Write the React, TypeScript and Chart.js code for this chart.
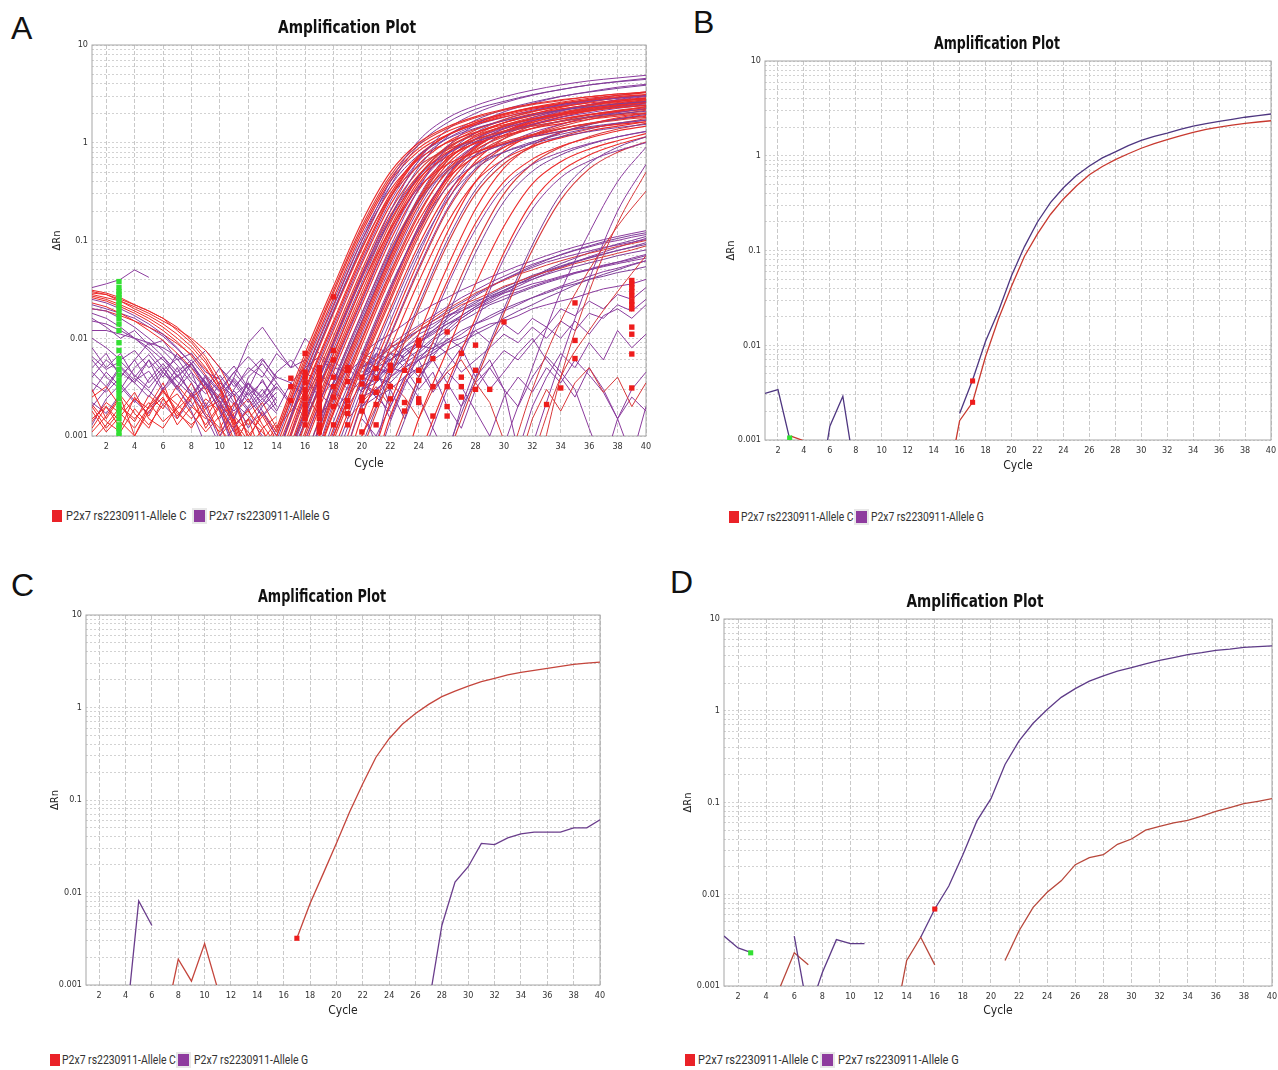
import React, { useEffect, useRef } from "react";
import { Chart, registerables } from "chart.js";

Chart.register(...registerables);

// ---------------- data ----------------
const CHART_TITLE = "Amplification Plot";
const X_TITLE = "Cycle";
const Y_TITLE = "ΔRn";
const SERIES_NAMES = ["P2x7 rs2230911-Allele C", "P2x7 rs2230911-Allele G"];
const X_TICKS = [2, 4, 6, 8, 10, 12, 14, 16, 18, 20, 22, 24, 26, 28, 30, 32, 34, 36, 38, 40];
const Y_TICKS = [
  0.001, 0.002, 0.003, 0.004, 0.005, 0.006, 0.007, 0.008, 0.009,
  0.01, 0.02, 0.03, 0.04, 0.05, 0.06, 0.07, 0.08, 0.09,
  0.1, 0.2, 0.3, 0.4, 0.5, 0.6, 0.7, 0.8, 0.9,
  1, 2, 3, 4, 5, 6, 7, 8, 9, 10,
];
const Y_LABELS = [0.001, 0.01, 0.1, 1, 10];
const CYCLES = [1, 2, 3, 4, 5, 6, 7, 8, 9, 10, 11, 12, 13, 14, 15, 16, 17, 18, 19, 20,
  21, 22, 23, 24, 25, 26, 27, 28, 29, 30, 31, 32, 33, 34, 35, 36, 37, 38, 39, 40];

// Panel B
const B_ALLELE_C = [null, null, 0.0011, 0.00098, 0.0004, null, null, null, null, null,
  null, null, null, null, 0.0003, 0.0016, 0.0025, 0.0076, 0.019, 0.042,
  0.087, 0.15, 0.24, 0.35, 0.48, 0.63, 0.77, 0.91, 1.05, 1.2,
  1.34, 1.48, 1.62, 1.76, 1.9, 2.0, 2.1, 2.2, 2.27, 2.34];
const B_ALLELE_G = [0.0031, 0.0034, 0.0009, 0.0003, 0.0002, 0.0014, 0.0029, 0.0004, null, null,
  null, null, null, null, null, 0.0019, 0.0043, 0.011, 0.023, 0.054,
  0.11, 0.2, 0.32, 0.46, 0.62, 0.78, 0.95, 1.1, 1.28, 1.45,
  1.6, 1.73, 1.9, 2.05, 2.18, 2.3, 2.42, 2.55, 2.65, 2.76];
const B_CT_MARKS = [[17, 0.0042], [17, 0.0025]];
const B_START_MARKS = [[2.9, 0.00105]];

// Panel C
const C_ALLELE_C = [null, null, null, null, null, null, 0.0004, 0.0019, 0.0011, 0.0028,
  0.0009, null, null, null, null, null, 0.0032, 0.0076, 0.016, 0.034,
  0.074, 0.15, 0.29, 0.46, 0.66, 0.86, 1.08, 1.31, 1.5, 1.7,
  1.9, 2.07, 2.25, 2.4, 2.52, 2.65, 2.78, 2.93, 3.02, 3.1];
const C_ALLELE_G = [null, null, null, 0.00032, 0.0081, 0.0044, null, null, null, null,
  null, null, null, null, null, null, null, null, null, null,
  null, null, null, null, null, null, 0.00061, 0.0044, 0.013, 0.019,
  0.034, 0.033, 0.039, 0.043, 0.045, 0.045, 0.045, 0.05, 0.05, 0.061];
const C_CT_MARKS = [[17, 0.0032]];

// Panel D
const D_ALLELE_C = [null, null, null, null, 0.00098, 0.0023, 0.0017, null, null, null,
  null, null, 0.0003, 0.0019, 0.0034, 0.0017, null, null, null, null,
  0.0019, 0.004, 0.0072, 0.0105, 0.014, 0.021, 0.025, 0.027, 0.035, 0.04,
  0.05, 0.055, 0.06, 0.064, 0.071, 0.08, 0.088, 0.097, 0.103, 0.11];
const D_ALLELE_G = [0.0035, 0.0026, 0.0023, null, null, 0.0035, 0.0005, 0.0014, 0.0032, 0.0029,
  0.0029, null, null, null, 0.0034, 0.0069, 0.0123, 0.027, 0.063, 0.11,
  0.26, 0.47, 0.73, 1.03, 1.4, 1.74, 2.1, 2.4, 2.7, 2.95,
  3.25, 3.55, 3.8, 4.1, 4.3, 4.55, 4.7, 4.9, 5.0, 5.1];
const D_CT_MARKS = [[16, 0.0069]];
const D_START_MARKS = [[2.9, 0.0023]];

// Panel A (many wells)
const A_AMP_X = [14, 16, 18, 20, 22, 24, 26, 28, 30, 32, 34, 36, 38, 40];
const A_AMP_C = [
  [0.0012, 0.007, 0.034, 0.155, 0.5, 1.0, 1.45, 1.85, 2.2, 2.5, 2.75, 2.95, 3.15, 3.3],
  [0.001, 0.0058, 0.029, 0.13, 0.43, 0.88, 1.3, 1.66, 1.99, 2.28, 2.54, 2.76, 2.96, 3.12],
  [0.0011, 0.0063, 0.031, 0.14, 0.46, 0.95, 1.4, 1.8, 2.15, 2.45, 2.7, 2.95, 3.15, 3.3],
  [0.001, 0.0054, 0.026, 0.12, 0.4, 0.82, 1.2, 1.54, 1.84, 2.1, 2.34, 2.55, 2.72, 2.88],
  [0.0008, 0.0045, 0.022, 0.1, 0.33, 0.68, 1.0, 1.28, 1.53, 1.75, 1.95, 2.12, 2.28, 2.4],
  [0.0007, 0.0038, 0.019, 0.085, 0.28, 0.58, 0.85, 1.08, 1.3, 1.48, 1.65, 1.8, 1.93, 2.03],
  [0.0004, 0.0028, 0.014, 0.067, 0.27, 0.7, 1.19, 1.6, 1.96, 2.3, 2.6, 2.85, 3.05, 3.25],
  [0.0004, 0.0024, 0.012, 0.058, 0.23, 0.6, 1.02, 1.38, 1.68, 1.98, 2.22, 2.45, 2.65, 2.8],
  [0.0003, 0.0021, 0.0105, 0.05, 0.2, 0.52, 0.9, 1.2, 1.47, 1.73, 1.95, 2.15, 2.3, 2.45],
  [0.0003, 0.0017, 0.0085, 0.041, 0.16, 0.43, 0.72, 0.98, 1.19, 1.4, 1.57, 1.74, 1.87, 2.0],
  [0.0002, 0.0014, 0.007, 0.034, 0.13, 0.35, 0.6, 0.8, 0.98, 1.15, 1.3, 1.43, 1.54, 1.64],
  [0.0002, 0.0011, 0.0061, 0.03, 0.135, 0.45, 0.92, 1.35, 1.73, 2.07, 2.36, 2.63, 2.86, 3.08],
  [0.0002, 0.0009, 0.0052, 0.025, 0.115, 0.38, 0.78, 1.15, 1.47, 1.76, 2.0, 2.24, 2.44, 2.62],
  [0.00015, 0.0008, 0.0045, 0.022, 0.1, 0.33, 0.68, 1.0, 1.28, 1.53, 1.75, 1.95, 2.12, 2.28],
  [0.0001, 0.0006, 0.0036, 0.018, 0.08, 0.26, 0.54, 0.8, 1.02, 1.22, 1.4, 1.56, 1.7, 1.82],
  [0.0001, 0.0004, 0.0028, 0.014, 0.067, 0.27, 0.7, 1.19, 1.6, 1.96, 2.3, 2.6, 2.87, 3.08],
  [0.0001, 0.0004, 0.0024, 0.012, 0.058, 0.23, 0.6, 1.02, 1.38, 1.68, 1.98, 2.22, 2.46, 2.64],
  [0.0001, 0.0003, 0.002, 0.01, 0.048, 0.19, 0.5, 0.85, 1.15, 1.4, 1.65, 1.85, 2.05, 2.2],
  [0.0001, 0.0003, 0.0017, 0.0085, 0.041, 0.16, 0.43, 0.72, 0.98, 1.19, 1.4, 1.57, 1.74, 1.87],
  [0.0001, 0.0002, 0.001, 0.0058, 0.029, 0.13, 0.43, 0.88, 1.3, 1.66, 1.99, 2.28, 2.54, 2.76],
  [0.0001, 0.0002, 0.0009, 0.005, 0.024, 0.11, 0.36, 0.75, 1.1, 1.41, 1.68, 1.93, 2.15, 2.33],
  [0.0001, 0.0001, 0.0007, 0.004, 0.02, 0.09, 0.3, 0.61, 0.9, 1.15, 1.38, 1.58, 1.76, 1.9],
  [0.0001, 0.0001, 0.0004, 0.0026, 0.013, 0.062, 0.25, 0.65, 1.1, 1.5, 1.82, 2.15, 2.4, 2.65],
  [0.0001, 0.0001, 0.0003, 0.0021, 0.0105, 0.05, 0.2, 0.52, 0.9, 1.2, 1.47, 1.73, 1.95, 2.15],
  [0.0001, 0.0001, 0.0002, 0.0016, 0.008, 0.038, 0.15, 0.4, 0.68, 0.92, 1.12, 1.32, 1.48, 1.64],
  [0.0001, 0.0001, 0.0002, 0.001, 0.0054, 0.026, 0.12, 0.4, 0.82, 1.2, 1.54, 1.84, 2.1, 2.34],
  [0.0001, 0.0001, 0.0001, 0.0007, 0.004, 0.02, 0.09, 0.3, 0.61, 0.9, 1.15, 1.38, 1.58, 1.76],
  [0.0001, 0.0001, 0.0001, 0.0003, 0.0022, 0.011, 0.053, 0.21, 0.55, 0.94, 1.27, 1.54, 1.8, 2.0],
  [0.0001, 0.0001, 0.0001, 0.0002, 0.0016, 0.008, 0.038, 0.15, 0.4, 0.68, 0.92, 1.12, 1.32, 1.48],
  [0.0001, 0.0001, 0.0001, 0.0001, 0.0007, 0.004, 0.02, 0.09, 0.3, 0.61, 0.9, 1.15, 1.38, 1.58],
  [0.0001, 0.0001, 0.0001, 0.0001, 0.0002, 0.0015, 0.0075, 0.036, 0.14, 0.38, 0.64, 0.86, 1.05, 1.24],
  [0.0001, 0.0001, 0.0001, 0.0001, 0.0001, 0.0006, 0.0034, 0.016, 0.075, 0.25, 0.51, 0.75, 0.96, 1.15],
  [0.0001, 0.0001, 0.0001, 0.0001, 0.0001, 0.0001, 0.0006, 0.0036, 0.018, 0.08, 0.26, 0.54, 0.8, 1.02],
  [0.0002, 0.001, 0.0056, 0.027, 0.125, 0.41, 0.85, 1.25, 1.6, 1.9, 2.2, 2.45, 2.65, 2.85],
  [0.0001, 0.0002, 0.001, 0.0054, 0.026, 0.12, 0.4, 0.82, 1.2, 1.54, 1.84, 2.1, 2.34, 2.55],
  [0.0001, 0.0004, 0.0026, 0.013, 0.062, 0.25, 0.65, 1.1, 1.5, 1.82, 2.15, 2.4, 2.65, 2.86],
  [0.0005, 0.003, 0.015, 0.072, 0.28, 0.72, 1.2, 1.6, 1.95, 2.25, 2.5, 2.72, 2.9, 3.05],
  [0.0003, 0.0019, 0.0095, 0.046, 0.18, 0.47, 0.8, 1.08, 1.32, 1.55, 1.75, 1.93, 2.08, 2.2],
  [0.0001, 0.0005, 0.003, 0.015, 0.07, 0.26, 0.66, 1.08, 1.45, 1.75, 2.05, 2.3, 2.5, 2.7],
  [0.0001, 0.0002, 0.0012, 0.0065, 0.032, 0.14, 0.45, 0.9, 1.3, 1.62, 1.92, 2.18, 2.4, 2.6],
  [0.0006, 0.0035, 0.018, 0.082, 0.3, 0.74, 1.18, 1.55, 1.9, 2.2, 2.45, 2.68, 2.88, 3.02],
  [0.0002, 0.0013, 0.0068, 0.034, 0.15, 0.46, 0.88, 1.26, 1.6, 1.9, 2.15, 2.38, 2.58, 2.75],
  [0.0001, 0.0003, 0.0018, 0.0095, 0.045, 0.18, 0.52, 0.92, 1.3, 1.6, 1.9, 2.15, 2.36, 2.55],
];
const A_AMP_G = [
  [0.0006, 0.0042, 0.021, 0.1, 0.4, 1.05, 1.78, 2.4, 2.95, 3.45, 3.9, 4.3, 4.6, 4.9],
  [0.0006, 0.0038, 0.019, 0.09, 0.36, 0.95, 1.6, 2.2, 2.65, 3.1, 3.5, 3.9, 4.2, 4.45],
  [0.0003, 0.0016, 0.009, 0.044, 0.2, 0.66, 1.36, 2.0, 2.56, 3.06, 3.5, 3.9, 4.24, 4.56],
  [0.0003, 0.0014, 0.0077, 0.037, 0.17, 0.56, 1.15, 1.7, 2.18, 2.6, 2.98, 3.3, 3.6, 3.88],
  [0.0002, 0.0005, 0.0036, 0.018, 0.086, 0.34, 0.9, 1.53, 2.07, 2.52, 2.97, 3.33, 3.7, 3.96],
  [0.0009, 0.005, 0.024, 0.11, 0.36, 0.75, 1.1, 1.41, 1.68, 1.93, 2.15, 2.33, 2.5, 2.64],
  [0.0004, 0.0026, 0.013, 0.062, 0.25, 0.65, 1.1, 1.5, 1.82, 2.15, 2.4, 2.65, 2.86, 3.05],
  [0.0003, 0.0018, 0.009, 0.043, 0.17, 0.45, 0.77, 1.03, 1.26, 1.48, 1.66, 1.84, 1.98, 2.1],
  [0.0002, 0.0009, 0.005, 0.024, 0.11, 0.36, 0.75, 1.1, 1.41, 1.68, 1.93, 2.15, 2.33, 2.5],
  [0.0001, 0.0006, 0.0034, 0.0165, 0.075, 0.25, 0.51, 0.75, 0.96, 1.15, 1.31, 1.46, 1.59, 1.71],
  [0.0001, 0.0003, 0.0022, 0.011, 0.053, 0.21, 0.55, 0.94, 1.27, 1.54, 1.82, 2.03, 2.25, 2.42],
  [0.0001, 0.0002, 0.0014, 0.007, 0.034, 0.13, 0.35, 0.6, 0.8, 0.98, 1.15, 1.3, 1.43, 1.54],
  [0.0001, 0.0002, 0.0011, 0.0063, 0.031, 0.14, 0.46, 0.95, 1.4, 1.8, 2.15, 2.45, 2.73, 2.97],
  [0.0001, 0.0001, 0.0006, 0.0036, 0.018, 0.08, 0.26, 0.54, 0.8, 1.02, 1.22, 1.4, 1.56, 1.7],
  [0.0001, 0.0001, 0.0003, 0.0022, 0.011, 0.053, 0.21, 0.55, 0.94, 1.27, 1.54, 1.82, 2.03, 2.25],
  [0.0001, 0.0001, 0.00015, 0.0008, 0.0045, 0.022, 0.1, 0.33, 0.68, 1.0, 1.28, 1.53, 1.75, 1.95],
  [0.0001, 0.0001, 0.0001, 0.0002, 0.0014, 0.007, 0.034, 0.13, 0.35, 0.6, 0.8, 0.98, 1.15, 1.3],
  [0.0001, 0.0001, 0.0001, 0.0001, 0.0006, 0.0034, 0.0165, 0.075, 0.25, 0.51, 0.75, 0.96, 1.15, 1.31],
  [0.0001, 0.0001, 0.0001, 0.0001, 0.0001, 0.0005, 0.003, 0.014, 0.065, 0.21, 0.44, 0.65, 0.83, 1.0],
  [0.0001, 0.0001, 0.0001, 0.0001, 0.0001, 0.0001, 0.0007, 0.004, 0.02, 0.09, 0.3, 0.61, 0.9, 1.15],
  [0.0001, 0.0001, 0.0005, 0.003, 0.015, 0.072, 0.28, 0.75, 1.27, 1.72, 2.1, 2.45, 2.77, 3.05],
  [0.0002, 0.0005, 0.003, 0.015, 0.072, 0.28, 0.75, 1.27, 1.72, 2.1, 2.45, 2.77, 3.05, 3.3],
];
const A_LATE_C = [
  [0.0001, 0.0001, 0.0001, 0.0001, 0.0001, 0.0001, 0.0001, 0.0001, 0.0001, 0.0003, 0.004, 0.03, 0.15, 0.5],
  [0.0001, 0.0001, 0.0001, 0.0001, 0.0001, 0.0001, 0.0001, 0.0001, 0.0004, 0.003, 0.015, 0.05, 0.14, 0.32],
  [0.0001, 0.0001, 0.0001, 0.0001, 0.0001, 0.0001, 0.0001, 0.0001, 0.0001, 0.0006, 0.004, 0.012, 0.03, 0.07],
];
const A_LATE_G = [
  [0.0001, 0.0001, 0.0001, 0.0001, 0.0001, 0.0001, 0.0001, 0.0001, 0.0008, 0.005, 0.03, 0.12, 0.4, 0.9],
  [0.0001, 0.0001, 0.0001, 0.0001, 0.0001, 0.0001, 0.0001, 0.0001, 0.0001, 0.0008, 0.006, 0.04, 0.2, 0.6],
];
const A_LOW_X = [20, 21, 22, 23, 24, 25, 26, 27, 28, 29, 30, 31, 32, 33, 34, 35, 36, 37, 38, 39, 40];
const A_LOW_G = [
  [0.004, 0.005, 0.0045, 0.007, 0.009, 0.011, 0.014, 0.016, 0.02, 0.023, 0.027, 0.03, 0.034, 0.038, 0.042, 0.047, 0.051, 0.056, 0.06, 0.066, 0.072],
  [0.003, 0.0035, 0.005, 0.006, 0.0075, 0.01, 0.013, 0.017, 0.021, 0.026, 0.031, 0.036, 0.042, 0.048, 0.054, 0.06, 0.066, 0.072, 0.079, 0.086, 0.095],
  [0.002, 0.003, 0.004, 0.0055, 0.007, 0.0095, 0.012, 0.016, 0.02, 0.024, 0.029, 0.034, 0.04, 0.046, 0.053, 0.06, 0.068, 0.076, 0.085, 0.095, 0.105],
  [0.005, 0.007, 0.006, 0.008, 0.011, 0.013, 0.017, 0.02, 0.024, 0.027, 0.031, 0.036, 0.04, 0.045, 0.05, 0.054, 0.059, 0.064, 0.07, 0.075, 0.08],
  [0.004, 0.0035, 0.006, 0.008, 0.01, 0.012, 0.016, 0.021, 0.027, 0.033, 0.04, 0.046, 0.053, 0.06, 0.066, 0.072, 0.078, 0.085, 0.09, 0.096, 0.102],
  [0.003, 0.004, 0.0035, 0.005, 0.0065, 0.008, 0.0095, 0.012, 0.014, 0.017, 0.02, 0.023, 0.026, 0.029, 0.033, 0.036, 0.04, 0.043, 0.047, 0.05, 0.054],
  [0.0025, 0.003, 0.004, 0.005, 0.006, 0.0075, 0.009, 0.011, 0.014, 0.016, 0.019, 0.022, 0.026, 0.03, 0.034, 0.038, 0.043, 0.048, 0.052, 0.057, 0.062],
  [0.005, 0.006, 0.008, 0.0095, 0.012, 0.015, 0.019, 0.023, 0.028, 0.034, 0.04, 0.047, 0.055, 0.063, 0.072, 0.08, 0.088, 0.097, 0.105, 0.113, 0.12],
  [0.003, 0.004, 0.005, 0.0045, 0.006, 0.007, 0.009, 0.01, 0.012, 0.014, 0.015, 0.017, 0.02, 0.022, 0.024, 0.026, 0.029, 0.032, 0.034, 0.036, 0.04],
  [0.004, 0.005, 0.006, 0.0075, 0.009, 0.0115, 0.014, 0.017, 0.021, 0.025, 0.03, 0.036, 0.042, 0.05, 0.058, 0.066, 0.075, 0.083, 0.092, 0.1, 0.11],
  [0.006, 0.008, 0.007, 0.01, 0.012, 0.014, 0.017, 0.019, 0.022, 0.026, 0.029, 0.032, 0.036, 0.039, 0.043, 0.047, 0.05, 0.054, 0.058, 0.062, 0.066],
  [0.002, 0.0025, 0.003, 0.004, 0.005, 0.006, 0.0075, 0.009, 0.011, 0.013, 0.016, 0.019, 0.022, 0.026, 0.03, 0.035, 0.04, 0.045, 0.05, 0.056, 0.062],
  [0.007, 0.009, 0.011, 0.014, 0.018, 0.022, 0.026, 0.031, 0.036, 0.042, 0.048, 0.055, 0.062, 0.07, 0.078, 0.086, 0.094, 0.102, 0.11, 0.118, 0.126],
  [0.0035, 0.005, 0.0042, 0.0065, 0.0085, 0.0078, 0.011, 0.015, 0.018, 0.022, 0.025, 0.029, 0.033, 0.037, 0.041, 0.046, 0.05, 0.055, 0.06, 0.064, 0.07],
  [0.005, 0.0065, 0.0085, 0.011, 0.0135, 0.017, 0.021, 0.026, 0.031, 0.037, 0.043, 0.05, 0.057, 0.064, 0.071, 0.079, 0.086, 0.094, 0.1, 0.108, 0.115],
  [0.0045, 0.0055, 0.007, 0.0065, 0.009, 0.012, 0.015, 0.019, 0.023, 0.028, 0.033, 0.038, 0.044, 0.049, 0.055, 0.061, 0.067, 0.073, 0.079, 0.085, 0.091],
];
const A_LOW_C = [
  [0.006, 0.005, 0.007, 0.009, 0.012, 0.015, 0.018, 0.022, 0.025, 0.029, 0.034, 0.038, 0.043, 0.048, 0.052, 0.058, 0.063, 0.068, 0.074, 0.08, 0.088],
  [0.007, 0.006, 0.008, 0.01, 0.013, 0.016, 0.02, 0.024, 0.029, 0.034, 0.039, 0.045, 0.05, 0.056, 0.062, 0.068, 0.074, 0.08, 0.087, 0.093, 0.1],
];
const A_NOISE_G = [
  [0.003, 0.005, 0.002, 0.004, 0.006, 0.003, 0.005, 0.008, 0.004, 0.006, 0.003, 0.0007, 0.002, 0.004, 0.007, 0.005, 0.009, 0.006, 0.012, 0.008, 0.011],
  [0.002, 0.0008, 0.003, 0.0015, 0.004, 0.006, 0.0035, 0.002, 0.005, 0.003, 0.0045, 0.007, 0.01, 0.006, 0.004, 0.0025, 0.005, 0.003, 0.0015, 0.0006, 0.002],
  [0.005, 0.004, 0.007, 0.005, 0.003, 0.0045, 0.002, 0.0012, 0.003, 0.005, 0.0075, 0.006, 0.009, 0.013, 0.01, 0.015, 0.011, 0.017, 0.02, 0.016, 0.022],
  [0.004, 0.006, 0.0045, 0.008, 0.006, 0.009, 0.007, 0.0045, 0.006, 0.008, 0.011, 0.009, 0.013, 0.01, 0.015, 0.012, 0.018, 0.016, 0.022, 0.019, 0.025],
  [0.0015, 0.001, 0.002, 0.004, 0.0025, 0.0012, 0.0006, 0.002, 0.0035, 0.005, 0.003, 0.002, 0.004, 0.0065, 0.0045, 0.003, 0.0012, 0.0005, 0.0015, 0.0025, 0.0018],
  [0.007, 0.005, 0.009, 0.006, 0.004, 0.0065, 0.01, 0.008, 0.012, 0.009, 0.014, 0.011, 0.016, 0.013, 0.02, 0.017, 0.024, 0.02, 0.028, 0.025, 0.033],
  [0.002, 0.003, 0.0015, 0.0035, 0.005, 0.0028, 0.0045, 0.0032, 0.0018, 0.001, 0.0025, 0.004, 0.0028, 0.005, 0.0035, 0.006, 0.0042, 0.0028, 0.0015, 0.003, 0.0045],
];
const A_NOISE_C = [
  [0.001, 0.002, 0.0035, 0.0025, 0.0015, 0.003, 0.0045, 0.006, 0.0035, 0.0022, 0.0009, 0.0005, 0.0015, 0.003, 0.0018, 0.0035, 0.005, 0.0028, 0.004, 0.002, 0.0035],
];
const A_EARLY_X = [1, 2, 3, 4, 5, 6, 7, 8, 9, 10, 11, 12, 13, 14];
const A_EARLY_C = [
  [0.031, 0.029, 0.026, 0.022, 0.019, 0.016, 0.012, 0.009, 0.006, 0.0033, 0.0013, 0.0004, 0.0001, 0.0001],
  [0.029, 0.028, 0.025, 0.022, 0.019, 0.016, 0.013, 0.0095, 0.0065, 0.0038, 0.0016, 0.0005, 0.0001, 0.0001],
  [0.027, 0.025, 0.022, 0.019, 0.016, 0.013, 0.01, 0.0075, 0.005, 0.003, 0.0012, 0.0004, 0.0001, 0.0001],
  [0.023, 0.021, 0.018, 0.015, 0.012, 0.0095, 0.007, 0.005, 0.003, 0.0014, 0.0005, 0.0001, 0.0001, 0.0001],
  [0.028, 0.026, 0.024, 0.021, 0.018, 0.015, 0.0125, 0.01, 0.0075, 0.005, 0.0026, 0.0009, 0.0002, 0.0001],
  [0.003, 0.0015, 0.0025, 0.001, 0.002, 0.0035, 0.0015, 0.0028, 0.0012, 0.002, 0.0008, 0.0015, 0.0006, 0.0012],
  [0.0015, 0.002, 0.0012, 0.0025, 0.0016, 0.003, 0.0018, 0.0012, 0.0022, 0.001, 0.0015, 0.0007, 0.0012, 0.0005],
  [0.002, 0.0012, 0.0018, 0.0028, 0.0015, 0.0012, 0.002, 0.0035, 0.0017, 0.0012, 0.0022, 0.001, 0.0016, 0.0009],
  [0.0012, 0.002, 0.0014, 0.001, 0.0018, 0.0025, 0.0013, 0.002, 0.0015, 0.0027, 0.0014, 0.0009, 0.0018, 0.0011],
  [0.0009, 0.0013, 0.002, 0.0015, 0.0022, 0.0014, 0.0019, 0.0026, 0.0016, 0.0011, 0.0017, 0.0024, 0.0013, 0.0008],
  [0.0018, 0.0011, 0.0016, 0.0024, 0.0019, 0.0028, 0.0021, 0.0015, 0.0024, 0.0018, 0.0012, 0.0019, 0.0009, 0.0014],
  [0.0025, 0.0032, 0.002, 0.0014, 0.0026, 0.0019, 0.0033, 0.0022, 0.0013, 0.0021, 0.0016, 0.0011, 0.0007, 0.0013],
  [0.0011, 0.0016, 0.0026, 0.0017, 0.0012, 0.0024, 0.0016, 0.0025, 0.0032, 0.0019, 0.0011, 0.0015, 0.0011, 0.0007],
  [0.02, 0.019, 0.017, 0.015, 0.013, 0.011, 0.0088, 0.0068, 0.0048, 0.003, 0.0015, 0.0006, 0.0002, 0.0001],
  [0.03, 0.028, 0.024, 0.02, 0.017, 0.014, 0.011, 0.0082, 0.0056, 0.0032, 0.0014, 0.0005, 0.0001, 0.0001],
  [0.026, 0.024, 0.021, 0.018, 0.015, 0.012, 0.0092, 0.0066, 0.0042, 0.0022, 0.0009, 0.0003, 0.0001, 0.0001],
  [0.0014, 0.0022, 0.0017, 0.0012, 0.002, 0.0029, 0.0017, 0.0013, 0.0019, 0.0023, 0.0013, 0.0018, 0.0012, 0.0016],
  [0.0021, 0.0014, 0.0011, 0.0019, 0.0013, 0.0021, 0.0027, 0.0017, 0.0011, 0.0016, 0.0021, 0.0013, 0.0017, 0.001],
];
const A_EARLY_G = [
  [0.025, 0.023, 0.02, 0.017, 0.014, 0.011, 0.008, 0.0055, 0.0035, 0.0018, 0.0007, 0.0002, 0.0001, 0.0001],
  [0.02, 0.019, 0.016, 0.013, 0.01, 0.0075, 0.0053, 0.0035, 0.002, 0.0009, 0.0003, 0.0001, 0.0001, 0.0001],
  [0.018, 0.016, 0.013, 0.01, 0.0075, 0.005, 0.0032, 0.0018, 0.0008, 0.0003, 0.0001, 0.0001, 0.0001, 0.0001],
  [0.012, 0.012, 0.011, 0.01, 0.009, 0.008, 0.0065, 0.005, 0.0036, 0.0022, 0.0011, 0.0004, 0.0001, 0.0001],
  [0.015, 0.014, 0.012, 0.01, 0.008, 0.006, 0.0042, 0.0028, 0.0016, 0.0008, 0.0003, 0.0001, 0.0001, 0.0001],
  [0.008, 0.005, 0.007, 0.004, 0.006, 0.003, 0.005, 0.0025, 0.004, 0.002, 0.0015, 0.003, 0.0018, 0.001],
  [0.005, 0.007, 0.004, 0.006, 0.0035, 0.005, 0.003, 0.0045, 0.002, 0.0035, 0.0025, 0.0012, 0.002, 0.0028],
  [0.004, 0.006, 0.0045, 0.0035, 0.006, 0.004, 0.007, 0.0045, 0.003, 0.005, 0.0035, 0.0022, 0.0038, 0.002],
  [0.002, 0.003, 0.005, 0.0035, 0.0025, 0.0045, 0.003, 0.002, 0.0035, 0.0025, 0.0018, 0.0028, 0.0016, 0.0025],
  [0.01, 0.008, 0.006, 0.0075, 0.005, 0.0065, 0.004, 0.0055, 0.003, 0.0042, 0.0026, 0.0035, 0.002, 0.0032],
  [0.033, 0.036, 0.04, 0.05, 0.042, null, null, null, null, null, null, null, null, null],
  [0.006, 0.004, 0.003, 0.005, 0.0068, 0.0045, 0.0032, 0.0055, 0.0075, 0.005, 0.0032, 0.0045, 0.0062, 0.0038],
  [0.0035, 0.0028, 0.004, 0.006, 0.009, 0.0065, 0.0045, 0.006, 0.004, 0.0028, 0.0045, 0.0065, 0.0045, 0.003],
  [0.016, 0.013, 0.01, 0.012, 0.0085, 0.0095, 0.006, 0.007, 0.0045, 0.0038, 0.0022, 0.0016, 0.001, 0.0006],
  [0.0028, 0.0045, 0.0032, 0.0022, 0.0038, 0.0055, 0.0036, 0.0026, 0.0042, 0.0029, 0.0021, 0.0034, 0.0024, 0.0017],
  [0.0065, 0.0048, 0.0058, 0.0042, 0.0031, 0.0047, 0.0062, 0.0038, 0.0027, 0.0036, 0.0052, 0.0031, 0.0022, 0.0035],
  [0.0022, 0.0017, 0.0027, 0.0039, 0.0029, 0.0021, 0.0015, 0.0024, 0.0034, 0.0022, 0.0029, 0.0019, 0.0027, 0.0041],
  [0.022, 0.02, 0.018, 0.016, 0.013, 0.0105, 0.0078, 0.0055, 0.0034, 0.0018, 0.0008, 0.0003, 0.0001, 0.0001],
  [0.0045, 0.0032, 0.0052, 0.0037, 0.0046, 0.0029, 0.0041, 0.0056, 0.0033, 0.0024, 0.0039, 0.0026, 0.0036, 0.0023],
  [0.0013, 0.0024, 0.0034, 0.0023, 0.0017, 0.0031, 0.0042, 0.0028, 0.0019, 0.0027, 0.0037, 0.0024, 0.0016, 0.0022],
];
const A_MID_X = [10, 11, 12, 13, 14, 15, 16, 17, 18, 19, 20, 21, 22];
const A_MID_G = [
  [0.002, 0.004, 0.009, 0.013, 0.008, 0.005, 0.006, 0.004, 0.003, 0.005, 0.0035, 0.0025, 0.004],
  [0.0015, 0.003, 0.005, 0.004, 0.007, 0.005, 0.01, 0.007, 0.005, 0.0045, 0.006, 0.0042, 0.005],
  [0.003, 0.0045, 0.003, 0.006, 0.004, 0.0035, 0.005, 0.0065, 0.0045, 0.003, 0.0055, 0.004, 0.0065],
  [0.001, 0.002, 0.0035, 0.0025, 0.0045, 0.006, 0.004, 0.0025, 0.0035, 0.0055, 0.004, 0.007, 0.005],
  [0.0025, 0.0015, 0.004, 0.0055, 0.0035, 0.0022, 0.0045, 0.0035, 0.006, 0.0042, 0.0028, 0.004, 0.0032],
  [0.0008, 0.0012, 0.002, 0.003, 0.0018, 0.0035, 0.0025, 0.0045, 0.003, 0.002, 0.0035, 0.0028, 0.0045],
  [0.0019, 0.0027, 0.0018, 0.0024, 0.0032, 0.0021, 0.0016, 0.0028, 0.0019, 0.0026, 0.0038, 0.0025, 0.0018],
];
const A_MID_C = [
  [0.0012, 0.0008, 0.0015, 0.0022, 0.0012, 0.0018, 0.0028, 0.0016, 0.0024, 0.0015, 0.0022, 0.0032, 0.002],
];
const A_CT_MARKS = [
  [15, 0.0039], [15, 0.0032], [15, 0.0023],
  [16, 0.007], [16, 0.0045], [16, 0.004], [16, 0.0035], [16, 0.003], [16, 0.0027], [16, 0.0024],
  [16, 0.0021], [16, 0.0019], [16, 0.0017], [16, 0.0015], [16, 0.0013],
  [17, 0.005], [17, 0.0045], [17, 0.004], [17, 0.0036], [17, 0.0032], [17, 0.0029], [17, 0.0026],
  [17, 0.0023], [17, 0.0021], [17, 0.0019], [17, 0.0017], [17, 0.0015], [17, 0.0013], [17, 0.0012], [17, 0.0011],
  [18, 0.0265], [18, 0.0075], [18, 0.006], [18, 0.004], [18, 0.0032], [18, 0.0025], [18, 0.002], [18, 0.0013],
  [19, 0.005], [19, 0.0047], [19, 0.0036], [19, 0.0023], [19, 0.002], [19, 0.0017], [19, 0.0013],
  [20, 0.004], [20, 0.0034], [20, 0.0025], [20, 0.0023], [20, 0.0018], [20, 0.0011],
  [21, 0.0049], [21, 0.0039], [21, 0.0028], [21, 0.0021], [21, 0.0013],
  [22, 0.0053], [22, 0.0047], [22, 0.0032], [22, 0.0024],
  [23, 0.0047], [23, 0.0022], [23, 0.0018],
  [24, 0.0095], [24, 0.0085], [24, 0.0047], [24, 0.0037], [24, 0.0024], [24, 0.0022],
  [25, 0.0062], [25, 0.0032], [25, 0.0016],
  [26, 0.0116], [26, 0.0032], [26, 0.002], [26, 0.0016],
  [27, 0.007], [27, 0.004], [27, 0.0032], [27, 0.0025],
  [28, 0.0085], [28, 0.0047], [28, 0.003],
  [29, 0.003], [30, 0.0147], [33, 0.0021], [34, 0.0031],
  [35, 0.023], [35, 0.0095], [35, 0.0062],
  [39, 0.039], [39, 0.036], [39, 0.033], [39, 0.03], [39, 0.027], [39, 0.024], [39, 0.022],
  [39, 0.02], [39, 0.013], [39, 0.011], [39, 0.0069], [39, 0.0031],
];
const A_START_X = 2.9;
const A_START_MARKS = [0.038, 0.033, 0.03, 0.028, 0.026, 0.024, 0.022, 0.02, 0.018, 0.016, 0.014, 0.012,
  0.009, 0.0075, 0.0062, 0.0055, 0.0048, 0.0042, 0.0037, 0.0033, 0.003, 0.0027, 0.0024, 0.0021,
  0.0019, 0.0017, 0.0015, 0.0013, 0.0012, 0.0011, 0.001];

// ---------------- styles ----------------
const NARROW = "'Liberation Sans Narrow', 'Arial Narrow', 'DejaVu Sans Condensed', Roboto, sans-serif";
const TITLE_FONT = "'DejaVu Sans Condensed', 'DejaVu Sans', Roboto, sans-serif";
const LEGEND_FONT = "Roboto, 'Liberation Sans', sans-serif";
const RED = "#ec2a2a";
const RED_2 = "#d8383a";
const PURPLE = "#8b3b9d";
const PURPLE_2 = "#7e3c98";
const MARK_RED = "#ee1c1c";
const MARK_GREEN = "#33e033";
const LEG_RED = "#ea2228";
const LEG_PURPLE = "#8e3b9e";

type P = { x: number; y: number | null };
const pts = (xs: number[], ys: (number | null)[]): P[] => xs.map((x, i) => ({ x, y: ys[i] }));
const pairPts = (pairs: number[][]): P[] => pairs.map(([x, y]) => ({ x, y }));
const colPts = (x: number, ys: number[]): P[] => ys.map((y) => ({ x, y }));

const line = (data: P[], color: string, width = 1, smooth = false) => ({
  data,
  borderColor: color,
  backgroundColor: color,
  borderWidth: width,
  pointRadius: 0,
  pointHoverRadius: 0,
  fill: false,
  tension: 0,
  cubicInterpolationMode: smooth ? "monotone" : "default",
});
const marks = (data: P[], color: string, r = 4) => ({
  data,
  showLine: false,
  pointStyle: "rect",
  pointRadius: r,
  pointHoverRadius: r,
  pointBorderWidth: 0,
  pointBackgroundColor: color,
  borderColor: color,
  backgroundColor: color,
});

function datasetsA() {
  const out: any[] = [];
  out.push(marks(colPts(A_START_X, A_START_MARKS), MARK_GREEN, 3.8));
  out.push(marks(pairPts(A_CT_MARKS), MARK_RED, 3.8));
  const n = Math.max(A_AMP_C.length, A_AMP_G.length);
  for (let i = 0; i < n; i++) {
    if (A_AMP_C[i]) out.push(line(pts(A_AMP_X, A_AMP_C[i]), i % 3 === 2 ? RED_2 : RED, 1.1, true));
    if (A_AMP_G[i]) out.push(line(pts(A_AMP_X, A_AMP_G[i]), i % 2 ? PURPLE_2 : PURPLE, 1, true));
  }
  A_LATE_C.forEach((r) => out.push(line(pts(A_AMP_X, r), RED_2, 1, true)));
  A_LATE_G.forEach((r) => out.push(line(pts(A_AMP_X, r), PURPLE, 1, true)));
  A_LOW_C.forEach((r) => out.push(line(pts(A_LOW_X, r), RED_2)));
  A_LOW_G.forEach((r, i) => out.push(line(pts(A_LOW_X, r), i % 2 ? PURPLE_2 : PURPLE)));
  A_NOISE_C.forEach((r) => out.push(line(pts(A_LOW_X, r), RED_2)));
  A_NOISE_G.forEach((r) => out.push(line(pts(A_LOW_X, r), PURPLE)));
  A_MID_C.forEach((r) => out.push(line(pts(A_MID_X, r), RED_2)));
  A_MID_G.forEach((r) => out.push(line(pts(A_MID_X, r), PURPLE)));
  const m = Math.max(A_EARLY_C.length, A_EARLY_G.length);
  for (let i = 0; i < m; i++) {
    if (A_EARLY_G[i]) out.push(line(pts(A_EARLY_X, A_EARLY_G[i]), PURPLE));
    if (A_EARLY_C[i]) out.push(line(pts(A_EARLY_X, A_EARLY_C[i]), RED));
  }
  return out;
}

function datasetsB() {
  return [
    marks(pairPts(B_START_MARKS), MARK_GREEN, 3.6),
    marks(pairPts(B_CT_MARKS), MARK_RED, 3.6),
    line(pts(CYCLES, B_ALLELE_G), "#4e3680", 1.3),
    line(pts(CYCLES, B_ALLELE_C), "#c8392f", 1.3),
  ];
}
function datasetsC() {
  return [
    marks(pairPts(C_CT_MARKS), MARK_RED, 3.6),
    line(pts(CYCLES, C_ALLELE_C), "#c4453c", 1.3),
    line(pts(CYCLES, C_ALLELE_G), "#6a3d8c", 1.3),
  ];
}
function datasetsD() {
  return [
    marks(pairPts(D_START_MARKS), MARK_GREEN, 3.6),
    marks(pairPts(D_CT_MARKS), MARK_RED, 3.6),
    line(pts(CYCLES, D_ALLELE_G), "#5e3b88", 1.3),
    line(pts(CYCLES, D_ALLELE_C), "#b8473b", 1.3),
  ];
}

// ---------------- layout ----------------
const PANELS = [
  {
    letter: "A", letterX: 11, letterY: 12, make: datasetsA,
    x: 48, y: 0, w: 606, h: 472, padRight: 8, titleTop: 17.2, titleBottom: 6.2,
    titleSize: 18, titleW: 138,
    yW: 44, xH: 36, yTitlePad: 2.4,
    legTop: 510, leg: [52, 66, 194, 209], legScale: 0.92,
  },
  {
    letter: "B", letterX: 693, letterY: 6, make: datasetsB,
    x: 723, y: 0, w: 554, h: 474, padRight: 6, titleTop: 34.2, titleBottom: 5.2,
    titleSize: 17, titleW: 126,
    yW: 42, xH: 34, yTitlePad: 1.4,
    legTop: 511, leg: [729, 741, 856, 871], legScale: 0.86,
  },
  {
    letter: "C", letterX: 11, letterY: 569, make: datasetsC,
    x: 44, y: 560, w: 564, h: 459, padRight: 8, titleTop: 27.2, titleBottom: 6.2,
    titleSize: 17, titleW: 128,
    yW: 42, xH: 34, yTitlePad: 4.4,
    legTop: 1054, leg: [50, 62, 178, 194], legScale: 0.87,
  },
  {
    letter: "D", letterX: 670, letterY: 566, make: datasetsD,
    x: 678, y: 560, w: 599, h: 459, padRight: 5, titleTop: 31.2, titleBottom: 6.2,
    titleSize: 18, titleW: 137,
    yW: 46, xH: 33, yTitlePad: 3.4,
    legTop: 1054, leg: [685, 698, 822, 838], legScale: 0.92,
  },
];

const framePlugin = {
  id: "frame",
  beforeDatasetsDraw(chart: any) {
    const { ctx, chartArea: a } = chart;
    ctx.save();
    ctx.strokeStyle = "#a6a6a6";
    ctx.lineWidth = 1;
    ctx.strokeRect(a.left, a.top, a.right - a.left, a.bottom - a.top);
    ctx.restore();
  },
};

// draws the chart title in a condensed bold face (canvas text)
const condensedTitle = (p: any) => ({
  id: "condensedTitle",
  afterDraw(chart: any) {
    const ctx = chart.ctx;
    ctx.save();
    ctx.font = `bold ${p.titleSize}px ${TITLE_FONT}`;
    const w = ctx.measureText(CHART_TITLE).width;
    const sx = p.titleW / w;
    const cx = (chart.width - p.padRight) / 2;
    const cy = p.titleTop + 10.8;
    ctx.translate(cx, cy);
    ctx.scale(sx, 1);
    ctx.textAlign = "center";
    ctx.textBaseline = "middle";
    ctx.fillStyle = "#111";
    ctx.fillText(CHART_TITLE, 0, 0);
    ctx.restore();
  },
});

function makeConfig(p: any) {
  return {
    type: "line",
    data: { datasets: p.make() },
    options: {
      animation: false,
      responsive: false,
      maintainAspectRatio: false,
      devicePixelRatio: 1,
      events: [],
      layout: { padding: { left: 0, right: p.padRight, top: p.titleTop + 21.6 + p.titleBottom, bottom: 0 } },
      plugins: {
        legend: { display: false },
        tooltip: { enabled: false },
        title: { display: false },
      },
      scales: {
        x: {
          type: "linear",
          min: 1,
          max: 40,
          afterBuildTicks: (s: any) => { s.ticks = X_TICKS.map((v) => ({ value: v })); },
          afterFit: (s: any) => { s.height = p.xH; s.paddingLeft = 0; s.paddingRight = 0; },
          ticks: { autoSkip: false, maxRotation: 0, padding: 5, color: "#333", font: { family: NARROW, size: 9 } },
          grid: { color: "#c9c9c9", lineWidth: 1, drawTicks: false },
          border: { display: false, dash: [4, 2] },
          title: {
            display: true, text: X_TITLE, color: "#222",
            font: { family: NARROW, size: 12, lineHeight: 1.2 },
            padding: { top: 0, bottom: 0.8 },
          },
        },
        y: {
          type: "logarithmic",
          min: 0.001,
          max: 10,
          afterBuildTicks: (s: any) => { s.ticks = Y_TICKS.map((v) => ({ value: v })); },
          afterFit: (s: any) => { s.width = p.yW; s.paddingTop = 0; s.paddingBottom = 0; },
          ticks: {
            autoSkip: false, padding: 4, color: "#333", font: { family: NARROW, size: 9 },
            callback: (v: number) => (Y_LABELS.includes(v) ? String(v) : ""),
          },
          grid: { color: "#d2d2d2", lineWidth: 1, drawTicks: false },
          border: { display: false, dash: [2, 2] },
          title: {
            display: true, text: Y_TITLE, color: "#222",
            font: { family: NARROW, size: 11, lineHeight: 1.2 },
            padding: { top: p.yTitlePad, bottom: 0 },
          },
        },
      },
    },
    plugins: [framePlugin, condensedTitle(p)],
  } as any;
}

function Panel({ p }: { p: any }) {
  const ref = useRef<HTMLCanvasElement>(null);
  useEffect(() => {
    const chart = new Chart(ref.current as HTMLCanvasElement, makeConfig(p));
    return () => chart.destroy();
  }, []);
  const [rl, t1, pl, t2] = p.leg;
  const txt = {
    position: "absolute" as const, top: p.legTop - 1, fontFamily: LEGEND_FONT, fontSize: 12,
    lineHeight: "14px", color: "#333", whiteSpace: "nowrap" as const,
    transform: `scaleX(${p.legScale})`, transformOrigin: "left center",
  };
  return (
    <>
      <div style={{ position: "absolute", left: p.letterX, top: p.letterY, fontFamily: "'Liberation Sans', Arial, sans-serif", fontSize: 32, lineHeight: "32px", color: "#111" }}>
        {p.letter}
      </div>
      <canvas ref={ref} width={p.w} height={p.h} style={{ position: "absolute", left: p.x, top: p.y, width: p.w, height: p.h }} />
      <div style={{ position: "absolute", left: rl, top: p.legTop, width: 10, height: 12, background: LEG_RED }} />
      <div style={{ ...txt, left: t1 }}>{SERIES_NAMES[0]}</div>
      <div style={{ position: "absolute", left: pl - 2, top: p.legTop - 2, width: 15, height: 16, background: "#e8e8e8" }} />
      <div style={{ position: "absolute", left: pl, top: p.legTop, width: 11, height: 12, background: LEG_PURPLE }} />
      <div style={{ ...txt, left: t2 }}>{SERIES_NAMES[1]}</div>
    </>
  );
}

export default function App() {
  return (
    <div style={{ position: "absolute", left: 0, top: 0, width: 1278, height: 1070, background: "#fff", overflow: "hidden" }}>
      {PANELS.map((p) => (
        <Panel key={p.letter} p={p} />
      ))}
    </div>
  );
}
